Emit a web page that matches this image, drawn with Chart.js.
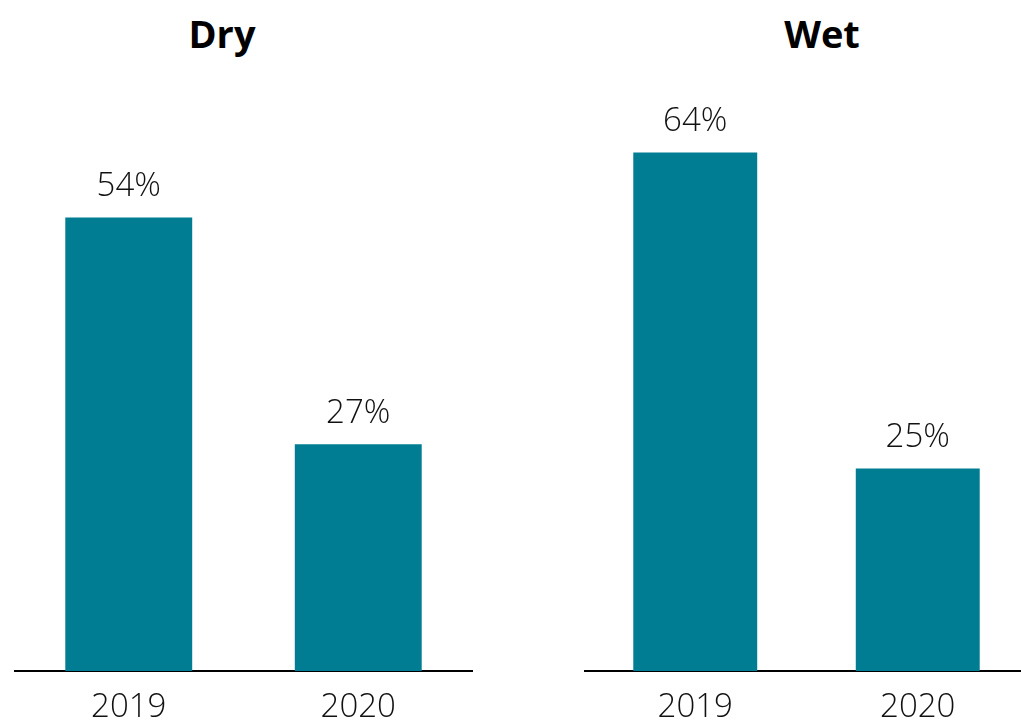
<!DOCTYPE html>
<html>
<head>
<meta charset="utf-8">
<script src="https://cdn.jsdelivr.net/npm/chart.js@4/dist/chart.umd.min.js"></script>
<style>
  html, body { margin: 0; padding: 0; background: #fff; overflow: hidden; width: 1021px; height: 721px; }
  .title { position: absolute; top: 8px; font-family: "Open Sans", sans-serif; font-weight: 700; font-size: 38px; color: #000; transform: translateX(-50%); line-height: 50px; }
  .box { position: absolute; top: 0; height: 721px; }
</style>
</head>
<body>
<div class="title" style="left:222px">Dry</div>
<div class="title" style="left:822px">Wet</div>
<div class="box" style="left:14px; width:459px"><canvas id="dry"></canvas></div>
<div class="box" style="left:584px; width:445px"><canvas id="wet"></canvas></div>
<script>
// two panels, same years
var years = ["2019", "2020"];
var dryValues = [54, 27];
var wetValues = [64, 25];

var teal = "#007c93";

// value labels above bars
var valueLabels = {
    id: "valueLabels",
    afterDatasetsDraw: function (chart) {
        var ctx = chart.ctx;
        var meta = chart.getDatasetMeta(0);
        ctx.save();
        ctx.font = "300 33px 'Open Sans'";
        ctx.fillStyle = "#111";
        ctx.textAlign = "center";
        ctx.textBaseline = "middle";
        meta.data.forEach(function (bar, i) {
            var v = chart.data.datasets[0].data[i];
            ctx.fillText(v + "%", bar.x, bar.y - 31);
        });
        ctx.restore();
    }
};

function makeChart(id, values, yMax, padTop, barPct) {
    var canvas = document.getElementById(id);
    return new Chart(canvas.getContext("2d"), {
        type: "bar",
        data: {
            labels: years,
            datasets: [{
                data: values,
                backgroundColor: teal,
                barPercentage: barPct,
                categoryPercentage: 1
            }]
        },
        options: {
            responsive: true,
            maintainAspectRatio: false,
            animation: false,
            layout: { padding: { top: padTop, left: 0, right: 0, bottom: 0 } },
            plugins: { legend: { display: false }, tooltip: { enabled: false } },
            scales: {
                x: {
                    grid: { display: false, drawTicks: false },
                    border: { display: true, color: "#000", width: 2 },
                    ticks: { color: "#111", font: { family: "'Open Sans'", size: 33, weight: "300" }, padding: 17 },
                    afterFit: function (scale) { scale.height = 50; }
                },
                y: { display: false, min: 0, max: yMax }
            }
        },
        plugins: [valueLabels]
    });
}

makeChart("dry", dryValues, 60, 167, 0.553);
makeChart("wet", wetValues, 70, 104, 0.557);
</script>
</body>
</html>
